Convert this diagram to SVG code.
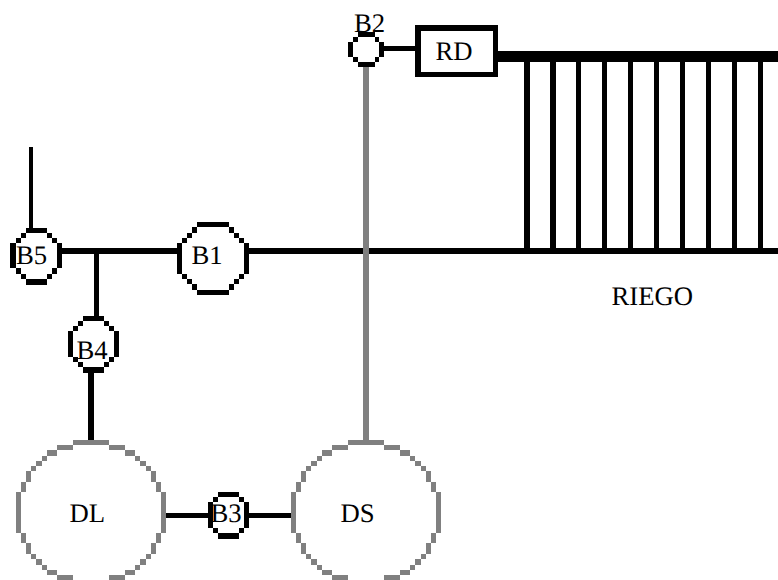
<svg xmlns="http://www.w3.org/2000/svg" xmlns:xlink="http://www.w3.org/1999/xlink" width="778" height="580" viewBox="0 0 778 580">
<style>
.k{fill:#000;shape-rendering:crispEdges}
.g{fill:#808080;shape-rendering:crispEdges}
text{font-family:"Liberation Serif","Times New Roman",serif;font-size:26.7px;fill:#000;text-rendering:geometricPrecision}
</style>
<defs>
<path id="half" d="M73 440H109V445H73ZM57 445H73V450H57ZM47 450H57V456H47ZM42 456H47V461H42ZM36 461H42V466H36ZM31 466H36V471H31ZM26 471H31V482H26ZM21 482H26V492H21ZM16 492H21V533H16ZM21 533H26V543H21ZM26 543H31V554H26ZM31 554H36V559H31ZM36 559H42V565H36ZM42 565H47V570H42ZM47 570H57V575H47ZM57 575H73V580H57Z"/>
<g id="tank" class="g"><use href="#half"/><use href="#half" transform="matrix(-1 0 0 1 182 0)"/></g>
</defs>
<rect width="778" height="580" fill="#fff"/>
<g id="connectors">
<rect class="k" x="29" y="147" width="4" height="82"/>
<rect class="k" x="62" y="248" width="115" height="6"/>
<rect class="k" x="249" y="248" width="529" height="6"/>
<rect class="k" x="94" y="254" width="5" height="62"/>
<rect class="k" x="88" y="373" width="6" height="67"/>
<rect class="k" x="166" y="513" width="42" height="5"/>
<rect class="k" x="249" y="513" width="42" height="5"/>
<rect class="g" x="363" y="67" width="6" height="373"/>
<rect class="k" x="384" y="46" width="32" height="5"/>
</g>
<g id="RIEGO">
<rect class="k" x="498" y="51" width="280" height="11"/>
<rect class="k" x="524" y="62" width="6" height="186"/>
<rect class="k" x="550" y="62" width="6" height="186"/>
<rect class="k" x="576" y="62" width="5" height="186"/>
<rect class="k" x="602" y="62" width="5" height="186"/>
<rect class="k" x="628" y="62" width="5" height="186"/>
<rect class="k" x="654" y="62" width="5" height="186"/>
<rect class="k" x="680" y="62" width="5" height="186"/>
<rect class="k" x="706" y="62" width="5" height="186"/>
<rect class="k" x="732" y="62" width="5" height="186"/>
<rect class="k" x="758" y="62" width="5" height="186"/>
<text x="611.5" y="305">RIEGO</text>
</g>
<g id="RD">
<path class="k" fill-rule="evenodd" d="M415 25H498V77H415ZM421 31V72H493V31Z"/>
<text x="435.5" y="60">RD</text>
</g>
<g id="B1">
<path class="k" d="M197 222H229V227H197ZM192 227H197V233H192ZM187 233H192V238H187ZM182 238H187V243H182ZM177 243H182V274H177ZM182 274H187V279H182ZM187 279H192V284H187ZM192 284H197V290H192ZM197 290H229V295H197ZM229 227H234V233H229ZM234 233H239V238H234ZM239 238H244V243H239ZM244 243H249V274H244ZM239 274H244V279H239ZM234 279H239V284H234ZM229 284H234V290H229Z"/>
<text x="191.5" y="264">B1</text>
</g>
<g id="B2">
<path class="k" d="M358 32H375V37H358ZM353 37H358V42H353ZM348 42H353V57H348ZM353 57H358V62H353ZM358 62H375V67H358ZM375 37H379V42H375ZM379 42H384V57H379ZM375 57H379V62H375Z"/>
<text x="354" y="32">B2</text>
</g>
<g id="B3">
<path class="k" d="M218 492H239V497H218ZM213 497H218V502H213ZM208 502H213V528H208ZM213 528H218V533H213ZM218 533H239V539H218ZM239 497H244V502H239ZM244 502H249V528H244ZM239 528H244V533H239Z"/>
<text x="210.5" y="521.7">B3</text>
</g>
<g id="B4">
<path class="k" d="M83 316H104V321H83ZM78 321H83V326H78ZM73 326H78V331H73ZM68 331H73V357H68ZM73 357H78V362H73ZM78 362H83V367H78ZM83 367H104V373H83ZM104 321H109V326H104ZM109 326H114V331H109ZM114 331H119V357H114ZM109 357H114V362H109ZM104 362H109V367H104Z"/>
<text x="76.5" y="359.3">B4</text>
</g>
<g id="B5">
<path class="k" d="M26 228H47V233H26ZM21 233H26V238H21ZM16 238H21V243H16ZM10 243H16V268H10ZM16 268H21V274H16ZM21 274H26V279H21ZM26 279H47V285H26ZM47 233H52V238H47ZM52 238H57V243H52ZM57 243H62V268H57ZM52 268H57V274H52ZM47 274H52V279H47Z"/>
<text x="16" y="264">B5</text>
</g>
<g id="DL">
<use href="#tank"/>
<text x="69.5" y="521.7">DL</text>
</g>
<g id="DS">
<use href="#tank" x="275"/>
<text x="340.5" y="521.7">DS</text>
</g>
</svg>
